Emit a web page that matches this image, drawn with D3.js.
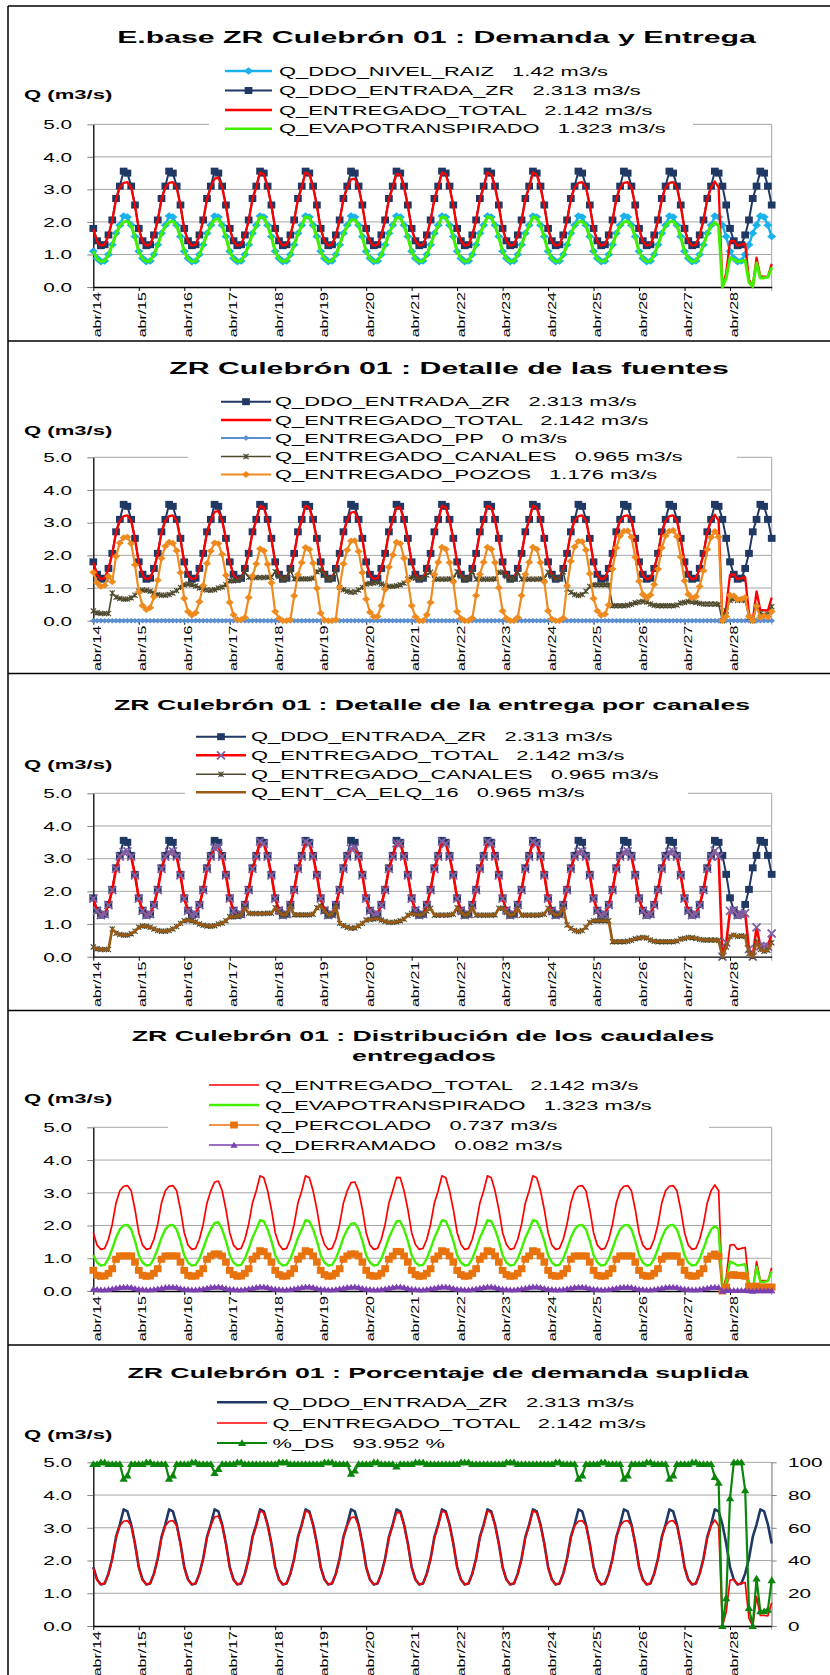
<!DOCTYPE html>
<meta charset="utf-8">
<style>
body { margin: 0; background: #fff; }
svg { display: block; font-family: "Liberation Sans", Arial, sans-serif; }
</style>
<svg width="830" height="1675"></svg>
<script src="https://d3js.org/d3.v7.min.js"></script>
<script>
// monthly values, abr/14 .. mar/29 (one row = one year, abr..mar)
var xLabels = ["abr/14","abr/15","abr/16","abr/17","abr/18","abr/19","abr/20","abr/21",
               "abr/22","abr/23","abr/24","abr/25","abr/26","abr/27","abr/28"];

var qDdoEntradaZr = [
  1.80,1.42,1.27,1.30,1.60,2.06,2.72,3.10,3.56,3.50,3.10,2.52,
  1.80,1.42,1.27,1.30,1.60,2.06,2.72,3.10,3.56,3.50,3.10,2.52,
  1.80,1.42,1.27,1.30,1.60,2.06,2.72,3.10,3.56,3.50,3.10,2.52,
  1.80,1.42,1.27,1.30,1.60,2.06,2.72,3.10,3.56,3.50,3.10,2.52,
  1.80,1.42,1.27,1.30,1.60,2.06,2.72,3.10,3.56,3.50,3.10,2.52,
  1.80,1.42,1.27,1.30,1.60,2.06,2.72,3.10,3.56,3.50,3.10,2.52,
  1.80,1.42,1.27,1.30,1.60,2.06,2.72,3.10,3.56,3.50,3.10,2.52,
  1.80,1.42,1.27,1.30,1.60,2.06,2.72,3.10,3.56,3.50,3.10,2.52,
  1.80,1.42,1.27,1.30,1.60,2.06,2.72,3.10,3.56,3.50,3.10,2.52,
  1.80,1.42,1.27,1.30,1.60,2.06,2.72,3.10,3.56,3.50,3.10,2.52,
  1.80,1.42,1.27,1.30,1.60,2.06,2.72,3.10,3.56,3.50,3.10,2.52,
  1.80,1.42,1.27,1.30,1.60,2.06,2.72,3.10,3.56,3.50,3.10,2.52,
  1.80,1.42,1.27,1.30,1.60,2.06,2.72,3.10,3.56,3.50,3.10,2.52,
  1.80,1.42,1.27,1.30,1.60,2.06,2.72,3.10,3.56,3.50,3.10,2.52,
  1.80,1.42,1.27,1.30,1.60,2.06,2.72,3.10,3.56,3.50,3.10,2.52
];

var qDdoNivelRaiz = [
  1.10,0.88,0.78,0.80,1.00,1.30,1.65,1.90,2.18,2.15,1.90,1.55,
  1.10,0.88,0.78,0.80,1.00,1.30,1.65,1.90,2.18,2.15,1.90,1.55,
  1.10,0.88,0.78,0.80,1.00,1.30,1.65,1.90,2.18,2.15,1.90,1.55,
  1.10,0.88,0.78,0.80,1.00,1.30,1.65,1.90,2.18,2.15,1.90,1.55,
  1.10,0.88,0.78,0.80,1.00,1.30,1.65,1.90,2.18,2.15,1.90,1.55,
  1.10,0.88,0.78,0.80,1.00,1.30,1.65,1.90,2.18,2.15,1.90,1.55,
  1.10,0.88,0.78,0.80,1.00,1.30,1.65,1.90,2.18,2.15,1.90,1.55,
  1.10,0.88,0.78,0.80,1.00,1.30,1.65,1.90,2.18,2.15,1.90,1.55,
  1.10,0.88,0.78,0.80,1.00,1.30,1.65,1.90,2.18,2.15,1.90,1.55,
  1.10,0.88,0.78,0.80,1.00,1.30,1.65,1.90,2.18,2.15,1.90,1.55,
  1.10,0.88,0.78,0.80,1.00,1.30,1.65,1.90,2.18,2.15,1.90,1.55,
  1.10,0.88,0.78,0.80,1.00,1.30,1.65,1.90,2.18,2.15,1.90,1.55,
  1.10,0.88,0.78,0.80,1.00,1.30,1.65,1.90,2.18,2.15,1.90,1.55,
  1.10,0.88,0.78,0.80,1.00,1.30,1.65,1.90,2.18,2.15,1.90,1.55,
  1.10,0.88,0.78,0.80,1.00,1.30,1.65,1.90,2.18,2.15,1.90,1.55
];

var qEntregadoTotal = [
  1.78,1.40,1.27,1.30,1.58,2.04,2.69,3.06,3.20,3.22,3.06,2.49,
  1.78,1.40,1.27,1.30,1.58,2.04,2.69,3.06,3.20,3.22,3.06,2.49,
  1.78,1.40,1.27,1.30,1.58,2.04,2.69,3.06,3.33,3.36,3.06,2.49,
  1.78,1.40,1.27,1.30,1.58,2.04,2.69,3.06,3.52,3.46,3.06,2.49,
  1.78,1.42,1.27,1.30,1.58,2.04,2.69,3.06,3.52,3.46,3.06,2.49,
  1.78,1.42,1.27,1.30,1.58,2.04,2.69,3.06,3.31,3.33,3.06,2.49,
  1.78,1.40,1.27,1.30,1.58,2.04,2.69,3.06,3.47,3.46,3.06,2.49,
  1.78,1.42,1.27,1.30,1.58,2.04,2.69,3.06,3.52,3.46,3.06,2.49,
  1.78,1.42,1.27,1.30,1.58,2.04,2.69,3.06,3.52,3.46,3.06,2.49,
  1.78,1.42,1.27,1.30,1.58,2.04,2.69,3.06,3.52,3.46,3.06,2.49,
  1.78,1.40,1.27,1.30,1.58,2.04,2.69,3.06,3.20,3.22,3.06,2.49,
  1.78,1.40,1.27,1.30,1.58,2.04,2.69,3.06,3.20,3.22,3.06,2.49,
  1.78,1.40,1.27,1.30,1.58,2.04,2.69,3.06,3.20,3.22,3.06,2.49,
  1.78,1.40,1.27,1.30,1.58,2.04,2.69,3.06,3.24,3.06,0.00,0.43,
  1.40,1.42,1.27,1.30,1.33,0.23,0.00,0.90,0.32,0.32,0.31,0.71
];

var qEvapotranspirado = [
  1.09,0.87,0.78,0.80,0.99,1.29,1.63,1.88,2.00,2.02,1.88,1.53,
  1.09,0.87,0.78,0.80,0.99,1.29,1.63,1.88,2.00,2.02,1.88,1.53,
  1.09,0.87,0.78,0.80,0.99,1.29,1.63,1.88,2.07,2.10,1.88,1.53,
  1.09,0.87,0.78,0.80,0.99,1.29,1.63,1.88,2.16,2.13,1.88,1.53,
  1.09,0.87,0.78,0.80,0.99,1.29,1.63,1.88,2.16,2.13,1.88,1.53,
  1.09,0.87,0.78,0.80,0.99,1.29,1.63,1.88,2.05,2.07,1.88,1.53,
  1.09,0.87,0.78,0.80,0.99,1.29,1.63,1.88,2.13,2.13,1.88,1.53,
  1.09,0.87,0.78,0.80,0.99,1.29,1.63,1.88,2.16,2.13,1.88,1.53,
  1.09,0.87,0.78,0.80,0.99,1.29,1.63,1.88,2.16,2.13,1.88,1.53,
  1.09,0.87,0.78,0.80,0.99,1.29,1.63,1.88,2.16,2.13,1.88,1.53,
  1.09,0.87,0.78,0.80,0.99,1.29,1.63,1.88,2.00,2.02,1.88,1.53,
  1.09,0.87,0.78,0.80,0.99,1.29,1.63,1.88,2.00,2.02,1.88,1.53,
  1.09,0.87,0.78,0.80,0.99,1.29,1.63,1.88,2.00,2.02,1.88,1.53,
  1.09,0.87,0.78,0.80,0.99,1.29,1.63,1.88,1.98,1.88,0.00,0.28,
  0.90,0.85,0.78,0.80,0.82,0.14,0.02,0.74,0.28,0.28,0.30,0.60
];

var qEntregadoPp = [
  0,0,0,0,0,0,0,0,0,0,0,0, 0,0,0,0,0,0,0,0,0,0,0,0, 0,0,0,0,0,0,0,0,0,0,0,0,
  0,0,0,0,0,0,0,0,0,0,0,0, 0,0,0,0,0,0,0,0,0,0,0,0, 0,0,0,0,0,0,0,0,0,0,0,0,
  0,0,0,0,0,0,0,0,0,0,0,0, 0,0,0,0,0,0,0,0,0,0,0,0, 0,0,0,0,0,0,0,0,0,0,0,0,
  0,0,0,0,0,0,0,0,0,0,0,0, 0,0,0,0,0,0,0,0,0,0,0,0, 0,0,0,0,0,0,0,0,0,0,0,0,
  0,0,0,0,0,0,0,0,0,0,0,0, 0,0,0,0,0,0,0,0,0,0,0,0, 0,0,0,0,0,0,0,0,0,0,0,0
];

var qEntregadoCanales = [
  0.30,0.24,0.22,0.22,0.22,0.85,0.72,0.68,0.66,0.66,0.70,0.78,
  0.90,0.94,0.93,0.90,0.85,0.80,0.78,0.78,0.80,0.85,0.92,1.02,
  1.10,1.12,1.10,1.06,1.00,0.96,0.94,0.93,0.95,1.00,1.03,1.10,
  1.22,1.22,1.24,1.27,1.48,1.33,1.32,1.32,1.32,1.32,1.33,1.33,
  1.50,1.35,1.27,1.30,1.55,1.28,1.28,1.28,1.28,1.28,1.30,1.50,
  1.55,1.40,1.27,1.30,1.55,1.02,0.95,0.90,0.87,0.88,0.94,1.02,
  1.12,1.14,1.15,1.17,1.12,1.08,1.05,1.05,1.07,1.10,1.15,1.27,
  1.32,1.30,1.27,1.30,1.40,1.48,1.27,1.27,1.27,1.27,1.28,1.30,
  1.50,1.35,1.27,1.30,1.50,1.27,1.27,1.27,1.27,1.27,1.28,1.48,
  1.48,1.35,1.27,1.30,1.48,1.27,1.27,1.27,1.27,1.27,1.28,1.30,
  1.48,1.35,1.27,1.30,1.50,0.97,0.87,0.80,0.77,0.80,0.90,1.05,
  1.10,1.10,1.10,1.10,1.10,0.46,0.46,0.46,0.46,0.47,0.50,0.55,
  0.57,0.59,0.57,0.51,0.47,0.46,0.46,0.46,0.46,0.46,0.48,0.54,
  0.56,0.59,0.58,0.56,0.53,0.51,0.51,0.51,0.51,0.50,0.00,0.30,
  0.62,0.66,0.62,0.64,0.62,0.10,0.00,0.45,0.22,0.17,0.20,0.43
];

// Q_ENT_CA_ELQ_16 plots the same values as Q_ENTREGADO_CANALES
var qEntCaElq16 = qEntregadoCanales;

var qEntregadoPozos = [
  1.48,1.16,1.05,1.08,1.36,1.19,1.97,2.38,2.54,2.56,2.36,1.71,
  0.88,0.46,0.34,0.40,0.73,1.24,1.91,2.28,2.40,2.37,2.14,1.47,
  0.68,0.28,0.17,0.24,0.58,1.08,1.75,2.13,2.38,2.36,2.03,1.39,
  0.56,0.18,0.03,0.03,0.10,0.71,1.37,1.74,2.20,2.14,1.73,1.16,
  0.28,0.07,0.00,0.00,0.03,0.76,1.41,1.78,2.24,2.18,1.76,0.99,
  0.23,0.02,0.00,0.00,0.03,1.02,1.74,2.16,2.44,2.45,2.12,1.47,
  0.66,0.26,0.12,0.13,0.46,0.96,1.64,2.01,2.40,2.36,1.91,1.22,
  0.46,0.12,0.00,0.00,0.18,0.56,1.42,1.79,2.25,2.19,1.78,1.19,
  0.28,0.07,0.00,0.00,0.08,0.77,1.42,1.79,2.25,2.19,1.78,1.01,
  0.30,0.07,0.00,0.00,0.10,0.77,1.42,1.79,2.25,2.19,1.78,1.19,
  0.30,0.05,0.00,0.00,0.08,1.07,1.82,2.26,2.43,2.42,2.16,1.44,
  0.68,0.30,0.17,0.20,0.48,1.58,2.23,2.60,2.74,2.75,2.56,1.94,
  1.21,0.81,0.70,0.79,1.11,1.58,2.23,2.60,2.74,2.76,2.58,1.95,
  1.22,0.81,0.69,0.74,1.05,1.53,2.18,2.55,2.73,2.56,0.00,0.13,
  0.78,0.76,0.65,0.66,0.71,0.13,0.00,0.45,0.10,0.15,0.11,0.28
];

var qPercolado = [
  0.63,0.48,0.45,0.46,0.54,0.68,0.97,1.07,1.07,1.07,1.07,0.88,
  0.63,0.48,0.45,0.46,0.54,0.68,0.97,1.07,1.07,1.07,1.07,0.88,
  0.63,0.48,0.45,0.46,0.54,0.68,0.97,1.07,1.13,1.13,1.07,0.88,
  0.63,0.50,0.45,0.46,0.54,0.68,0.97,1.07,1.23,1.20,1.07,0.88,
  0.63,0.50,0.45,0.46,0.54,0.68,0.97,1.07,1.23,1.20,1.07,0.88,
  0.63,0.50,0.45,0.46,0.54,0.68,0.97,1.07,1.13,1.13,1.07,0.88,
  0.63,0.48,0.45,0.46,0.54,0.68,0.97,1.07,1.21,1.20,1.07,0.88,
  0.63,0.50,0.45,0.46,0.54,0.68,0.97,1.07,1.23,1.20,1.07,0.88,
  0.63,0.50,0.45,0.46,0.54,0.68,0.97,1.07,1.23,1.20,1.07,0.88,
  0.63,0.50,0.45,0.46,0.54,0.68,0.97,1.07,1.23,1.20,1.07,0.88,
  0.63,0.48,0.45,0.46,0.54,0.68,0.97,1.07,1.07,1.07,1.07,0.88,
  0.63,0.48,0.45,0.46,0.54,0.68,0.97,1.07,1.07,1.07,1.07,0.88,
  0.63,0.48,0.45,0.46,0.54,0.68,0.97,1.07,1.07,1.07,1.07,0.88,
  0.63,0.48,0.45,0.46,0.54,0.68,0.97,1.07,1.13,1.06,0.00,0.12,
  0.48,0.50,0.47,0.48,0.45,0.15,0.12,0.15,0.12,0.12,0.12,0.12
];

var qDerramado = [
  0.06,0.05,0.04,0.04,0.05,0.07,0.09,0.11,0.12,0.12,0.11,0.08,
  0.06,0.05,0.04,0.04,0.05,0.07,0.09,0.11,0.12,0.12,0.11,0.08,
  0.06,0.05,0.04,0.04,0.05,0.07,0.09,0.11,0.12,0.13,0.11,0.08,
  0.06,0.05,0.04,0.04,0.05,0.07,0.09,0.11,0.13,0.13,0.11,0.08,
  0.06,0.05,0.04,0.04,0.05,0.07,0.09,0.11,0.13,0.13,0.11,0.08,
  0.06,0.05,0.04,0.04,0.05,0.07,0.09,0.11,0.12,0.13,0.11,0.08,
  0.06,0.05,0.04,0.04,0.05,0.07,0.09,0.11,0.13,0.13,0.11,0.08,
  0.06,0.05,0.04,0.04,0.05,0.07,0.09,0.11,0.13,0.13,0.11,0.08,
  0.06,0.05,0.04,0.04,0.05,0.07,0.09,0.11,0.13,0.13,0.11,0.08,
  0.06,0.05,0.04,0.04,0.05,0.07,0.09,0.11,0.13,0.13,0.11,0.08,
  0.06,0.05,0.04,0.04,0.05,0.07,0.09,0.11,0.12,0.12,0.11,0.08,
  0.06,0.05,0.04,0.04,0.05,0.07,0.09,0.11,0.12,0.12,0.11,0.08,
  0.06,0.05,0.04,0.04,0.05,0.07,0.09,0.11,0.12,0.12,0.11,0.08,
  0.06,0.05,0.04,0.04,0.05,0.07,0.09,0.11,0.12,0.11,0.00,0.02,
  0.02,0.02,0.02,0.02,0.02,0.01,0.00,0.01,0.01,0.01,0.01,0.01
];

var pctDs = [
  99,99,100,100,99,99,99,99,90,92,99,99,
  99,99,100,100,99,99,99,99,90,92,99,99,
  99,99,100,100,99,99,99,99,93.5,96,99,99,
  99,99,100,100,99,99,99,99,99,99,99,99,
  99,100,100,100,99,99,99,99,99,99,99,99,
  99,100,100,100,99,99,99,99,93,95,99,99,
  99,99,100,100,99,99,99,99,97.5,99,99,99,
  99,100,100,100,99,99,99,99,99,99,99,99,
  99,100,100,100,99,99,99,99,99,99,99,99,
  99,100,100,100,99,99,99,99,99,99,99,99,
  99,99,100,100,99,99,99,99,90,92,99,99,
  99,99,100,100,99,99,99,99,90,92,99,99,
  99,99,100,100,99,99,99,99,90,92,99,99,
  99,99,100,100,99,99,99,99,91,87.5,0,17,
  78,100,100,100,83,11,0,29,9,9,10,28
];

var leyendaNombres = {
  nivel: "Q_DDO_NIVEL_RAIZ   1.42 m3/s",
  ddo: "Q_DDO_ENTRADA_ZR   2.313 m3/s",
  total: "Q_ENTREGADO_TOTAL   2.142 m3/s",
  et: "Q_EVAPOTRANSPIRADO   1.323 m3/s",
  pp: "Q_ENTREGADO_PP   0 m3/s",
  canales: "Q_ENTREGADO_CANALES   0.965 m3/s",
  pozos: "Q_ENTREGADO_POZOS   1.176 m3/s",
  elq: "Q_ENT_CA_ELQ_16   0.965 m3/s",
  perc: "Q_PERCOLADO   0.737 m3/s",
  derr: "Q_DERRAMADO   0.082 m3/s",
  ds: "%_DS   93.952 %"
};

// ---------------- drawing ----------------
var SX = 1.7;   // the original text is rendered very wide
var X0 = 93.3, X1 = 771.7;
var svg = d3.select("svg");
var x = d3.scaleLinear().domain([0, 179]).range([X0, X1]);

function stext(g, s, tx, ty, size, bold, anchor, sx) {
  return g.append("text")
    .attr("transform", "translate(" + tx + "," + ty + ") scale(" + (sx || SX) + ",1)")
    .attr("font-size", size)
    .attr("font-weight", bold ? "bold" : null)
    .attr("text-anchor", anchor || "start")
    .attr("xml:space", "preserve")
    .style("white-space", "pre")
    .text(s);
}

function shape(type, r) {
  if (type == "square") return "M" + (-r * 1.1) + "," + (-r) + "h" + (2.2 * r) + "v" + (2 * r) + "h" + (-2.2 * r) + "Z";
  if (type == "diamond") return "M0," + (-r) + "L" + (r * 1.2) + ",0L0," + r + "L" + (-r * 1.2) + ",0Z";
  if (type == "triangle") return "M0," + (-r) + "L" + (r * 1.1) + "," + (r * 0.8) + "L" + (-r * 1.1) + "," + (r * 0.8) + "Z";
  if (type == "x") return "M" + (-r) + "," + (-r) + "L" + r + "," + r + "M" + (-r) + "," + r + "L" + r + "," + (-r);
  if (type == "star") return "M" + (-r) + "," + (-r) + "L" + r + "," + r + "M" + (-r) + "," + r + "L" + r + "," + (-r) + "M0," + (-r) + "L0," + r;
  return "";
}

function styleMarker(sel, s) {
  if (s.marker == "x" || s.marker == "star") {
    sel.attr("fill", "none").attr("stroke", s.mcolor || s.color).attr("stroke-width", s.msw || 1.2);
  } else {
    sel.attr("fill", s.mcolor || s.color).attr("stroke", "none");
  }
}

var navy = "#1f3864", red = "#ff0000", lime = "#40f000";
var S = {
  nivel:   { values: qDdoNivelRaiz, label: leyendaNombres.nivel, color: "#19b2ec", width: 2.5, marker: "diamond", size: 3.8 },
  ddoM:    { values: qDdoEntradaZr, label: leyendaNombres.ddo, color: navy, width: 2, marker: "square", size: 3.5 },
  ddo:     { values: qDdoEntradaZr, label: leyendaNombres.ddo, color: navy, width: 2.6 },
  total:   { values: qEntregadoTotal, label: leyendaNombres.total, color: red, width: 2.3 },
  totalT:  { values: qEntregadoTotal, label: leyendaNombres.total, color: red, width: 1.7 },
  totalX:  { values: qEntregadoTotal, label: leyendaNombres.total, color: red, width: 2.6, marker: "x", size: 4, mcolor: "#7f63a6", msw: 1.8 },
  et:      { values: qEvapotranspirado, label: leyendaNombres.et, color: lime, width: 3 },
  etT:     { values: qEvapotranspirado, label: leyendaNombres.et, color: lime, width: 2.4 },
  pp:      { values: qEntregadoPp, label: leyendaNombres.pp, color: "#5b8fd0", width: 2.2, marker: "diamond", size: 2.8 },
  canales: { values: qEntregadoCanales, label: leyendaNombres.canales, color: "#4e4a2e", width: 1.6, marker: "star", size: 2.6, msw: 1.1 },
  pozos:   { values: qEntregadoPozos, label: leyendaNombres.pozos, color: "#ee8a1e", width: 2.2, marker: "diamond", size: 3.4 },
  elq:     { values: qEntCaElq16, label: leyendaNombres.elq, color: "#9a5a14", width: 2.7 },
  perc:    { values: qPercolado, label: leyendaNombres.perc, color: "#e8720c", width: 1.6, marker: "square", size: 3.5 },
  derr:    { values: qDerramado, label: leyendaNombres.derr, color: "#7b3fb0", width: 1.6, marker: "triangle", size: 3.3 },
  ds:      { values: pctDs, label: leyendaNombres.ds, color: "#0a860a", width: 2.2, marker: "triangle", size: 3.8, right: true }
};

var panels = [
  { top: 124.3, bottom: 287, titles: [["E.base ZR Culebrón 01 : Demanda y Entrega", 436.5, 42.7]], tsize: 17,
    ylab: 99, leg: { x1: 225, x2: 272, tx: 279, rows: [71, 90.5, 110, 128.7] }, box: [209, 60, 693, 138],
    series: [S.nivel, S.ddoM, S.total, S.et] },
  { top: 457.3, bottom: 620.7, titles: [["ZR Culebrón 01 : Detalle de las fuentes", 449, 374.3]], tsize: 17,
    ylab: 435, leg: { x1: 221, x2: 271, tx: 275, rows: [401.7, 420, 438, 456.5, 474.5] }, box: [188, 391, 737, 484],
    series: [S.ddoM, S.total, S.pp, S.canales, S.pozos] },
  { top: 793.3, bottom: 956.7, titles: [["ZR Culebrón 01 : Detalle de la entrega por canales", 432, 710]], tsize: 15,
    ylab: 769.3, leg: { x1: 196, x2: 246, tx: 251, rows: [736.7, 755.3, 774.3, 792.3] }, box: [185, 726, 688, 801],
    series: [S.ddoM, S.totalX, S.canales, S.elq] },
  { top: 1127.3, bottom: 1291, titles: [["ZR Culebrón 01 : Distribución de los caudales", 423, 1040.7], ["entregados", 424, 1060.7]], tsize: 15,
    ylab: 1103, leg: { x1: 209, x2: 259, tx: 265, rows: [1085, 1105, 1125, 1145] }, box: [168, 1075, 709, 1154],
    series: [S.totalT, S.etT, S.perc, S.derr] },
  { top: 1462.3, bottom: 1626, titles: [["ZR Culebrón 01 : Porcentaje de demanda suplida", 438, 1378.3]], tsize: 15,
    ylab: 1439, leg: { x1: 217, x2: 267, tx: 272.5, rows: [1402.3, 1423, 1443] }, box: null, rightAxis: true,
    series: [S.ddo, S.totalT, S.ds] }
];

// frame lines of the table
var frame = svg.append("g").attr("stroke", "#000").attr("stroke-width", 1.5);
frame.append("line").attr("x1", 8).attr("x2", 830).attr("y1", 6).attr("y2", 6);
frame.append("line").attr("x1", 8).attr("x2", 8).attr("y1", 6).attr("y2", 1675);
[341, 673.5, 1010.5, 1345].forEach(function(yy) {
  frame.append("line").attr("x1", 8).attr("x2", 830).attr("y1", yy).attr("y2", yy);
});

panels.forEach(function(p) {
  var g = svg.append("g");
  var y = d3.scaleLinear().domain([0, 5]).range([p.bottom, p.top]);
  var y2 = d3.scaleLinear().domain([0, 100]).range([p.bottom, p.top]);

  // titles and axis name
  p.titles.forEach(function(t) { stext(g, t[0], t[1], t[2], p.tsize, true, "middle", 1.78); });
  stext(g, "Q (m3/s)", 24, p.ylab, 13, true, "start", 1.7);

  // gridlines + plot border
  var grid = g.append("g").attr("stroke", "#a6a6a6").attr("stroke-width", 1);
  [1, 2, 3, 4, 5].forEach(function(v) {
    grid.append("line").attr("x1", X0).attr("x2", X1).attr("y1", y(v)).attr("y2", y(v));
  });
  grid.append("line").attr("x1", X1).attr("x2", X1).attr("y1", p.top).attr("y2", p.bottom + 4);

  // left axis
  var ya = g.append("g").attr("transform", "translate(" + X0 + ",0)")
    .call(d3.axisLeft(y).tickValues([0, 1, 2, 3, 4, 5]).tickSize(6).tickSizeOuter(0).tickFormat(d3.format(".1f")));
  ya.attr("font-family", null).attr("font-size", null);
  ya.select(".domain").attr("stroke", "#000").attr("stroke-width", 1.3);
  ya.selectAll(".tick line").attr("stroke", "#808080");
  ya.selectAll(".tick text").attr("x", null).attr("dy", null).attr("fill", "#000")
    .attr("font-size", 12.2).attr("transform", "translate(-21.3,4.3) scale(" + SX + ",1)");

  // bottom axis
  var xa = g.append("g").attr("transform", "translate(0," + p.bottom + ")")
    .call(d3.axisBottom(x).tickValues(d3.range(0, 169, 12)).tickSize(4).tickSizeOuter(0)
      .tickFormat(function(d, i) { return xLabels[i]; }));
  xa.attr("font-family", null).attr("font-size", null);
  xa.select(".domain").attr("stroke", "#000").attr("stroke-width", 1.3);
  xa.selectAll(".tick line").attr("stroke", "#000");
  xa.selectAll(".tick text").attr("y", null).attr("dy", null).attr("fill", "#000")
    .attr("font-size", 10).attr("text-anchor", "end")
    .attr("transform", "translate(7.2,5) rotate(-90) scale(1.6,1)");

  if (p.rightAxis) {
    var ra = g.append("g").attr("transform", "translate(" + X1 + ",0)")
      .call(d3.axisRight(y2).tickValues([0, 20, 40, 60, 80, 100]).tickSize(5).tickSizeOuter(0));
    ra.attr("font-family", null).attr("font-size", null);
    ra.select(".domain").attr("stroke", "#a6a6a6");
    ra.selectAll(".tick line").attr("stroke", "#808080");
    ra.selectAll(".tick text").attr("x", null).attr("dy", null).attr("fill", "#000")
      .attr("font-size", 12.2).attr("text-anchor", "start")
      .attr("transform", "translate(16.3,4.3) scale(" + SX + ",1)");
  }

  // series
  p.series.forEach(function(s) {
    var ys = s.right ? y2 : y;
    var line = d3.line().x(function(d, i) { return x(i); }).y(function(d) { return ys(d); });
    g.append("path").attr("d", line(s.values)).attr("fill", "none")
      .attr("stroke", s.color).attr("stroke-width", s.width).attr("stroke-linejoin", "round");
    if (s.marker) {
      var m = g.append("g").selectAll("path").data(s.values).join("path")
        .attr("transform", function(d, i) { return "translate(" + x(i) + "," + ys(d) + ")"; })
        .attr("d", shape(s.marker, s.size));
      styleMarker(m, s);
    }
  });

  // legend
  if (p.box) {
    g.append("rect").attr("x", p.box[0]).attr("y", p.box[1])
      .attr("width", p.box[2] - p.box[0]).attr("height", p.box[3] - p.box[1]).attr("fill", "#fff");
  }
  p.series.forEach(function(s, k) {
    var ry = p.leg.rows[k];
    g.append("line").attr("x1", p.leg.x1).attr("x2", p.leg.x2).attr("y1", ry).attr("y2", ry)
      .attr("stroke", s.color).attr("stroke-width", Math.min(s.width, 2.6));
    if (s.marker) {
      var lm = g.append("path").attr("transform", "translate(" + ((p.leg.x1 + p.leg.x2) / 2) + "," + ry + ")")
        .attr("d", shape(s.marker, s.size));
      styleMarker(lm, s);
    }
    stext(g, s.label, p.leg.tx, ry + 4.7, 13, false, "start", 1.68);
  });
});
</script>
